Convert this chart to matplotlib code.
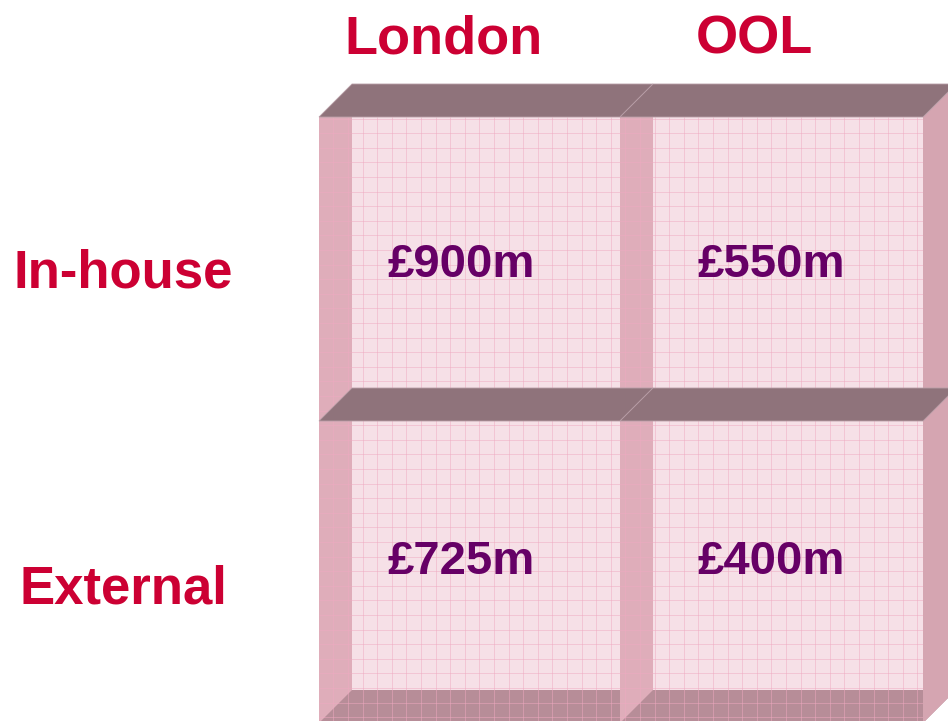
import numpy as np
import matplotlib.pyplot as plt
from matplotlib.patches import Polygon, Rectangle

# data
columns = ["London", "OOL"]
rows = ["In-house", "External"]
values = [[900, 550],
          [725, 400]]

# layout (pixels)
col_edges = [319, 620, 923]
row_edges = [117, 421, 723]
depth = 33
grid_step = 14.6
head_x = [444, 754]
head_y = 54
row_label_x = 123
row_label_y = [288, 603]
val_x = [461, 771]
val_y = [277, 574]

back_col = '#f6e0e7'
strip_col = '#dfadba'
top_col = '#8f737b'
wall_col = '#d5a5b1'
floor_col = '#b78d98'
red = '#cc0033'
purple = '#660066'

fig = plt.figure(figsize=(9.48, 7.21), dpi=100)
ax = fig.add_axes([0, 0, 1, 1])
ax.set_xlim(0, 948)
ax.set_ylim(721, 0)
ax.axis('off')

x0, x1 = col_edges[0], col_edges[-1]
y0, y1 = row_edges[0], row_edges[-1]

# back faces
ax.add_patch(Rectangle((x0, y0), x1 - x0, y1 - y0, color=back_col, lw=0, zorder=1))

# left walls and floor
for c in range(len(columns)):
    L, R = col_edges[c], col_edges[c + 1]
    ax.add_patch(Rectangle((L, y0), depth, y1 - y0, color=strip_col, lw=0, zorder=2 + c))
    floor = [(L, y1), (R, y1), (R + depth, y1 - depth), (L + depth, y1 - depth)]
    ax.add_patch(Polygon(floor, closed=True, color=floor_col, lw=0, zorder=2 + c))

# grid texture
clip = Rectangle((x0, y0), x1 - x0, y1 - y0, transform=ax.transData)
gx = np.arange(x0 + 14.3, x1, grid_step)
gy = np.arange(y0 + 1.6, y1, grid_step)
vl = ax.vlines(gx, y0, y1, colors='#efa9c1', lw=0.7, alpha=0.5, zorder=5)
hl = ax.hlines(gy, x0, x1, colors='#efa9c1', lw=0.7, alpha=0.5, zorder=5)
vl.set_clip_path(clip)
hl.set_clip_path(clip)

# right wall
wall = [(x1, y0), (x1 + depth, y0 - depth), (x1 + depth, y1 - depth), (x1, y1)]
ax.add_patch(Polygon(wall, closed=True, color=wall_col, lw=0, zorder=6))

# top faces
for r in range(len(rows)):
    T = row_edges[r]
    for c in range(len(columns)):
        L, R = col_edges[c], col_edges[c + 1]
        top = [(L, T), (R, T), (R + depth, T - depth), (L + depth, T - depth)]
        ax.add_patch(Polygon(top, closed=True, facecolor=top_col,
                             edgecolor='#b89ea7', lw=0.6, zorder=7))

font = ['Liberation Sans', 'DejaVu Sans']

for c, name in enumerate(columns):
    ax.text(head_x[c], head_y, name, ha='center', va='baseline', color=red,
            fontsize=39, fontweight='bold', family=font, zorder=10)

for r, name in enumerate(rows):
    ax.text(row_label_x, row_label_y[r], name, ha='center', va='baseline', color=red,
            fontsize=38, fontweight='bold', family=font, zorder=10)

for r in range(len(rows)):
    for c in range(len(columns)):
        ax.text(val_x[c], val_y[r], '£%dm' % values[r][c], ha='center', va='baseline',
                color=purple, fontsize=34, fontweight='bold', family=font, zorder=10)

fig.savefig('out.png', dpi=100)
